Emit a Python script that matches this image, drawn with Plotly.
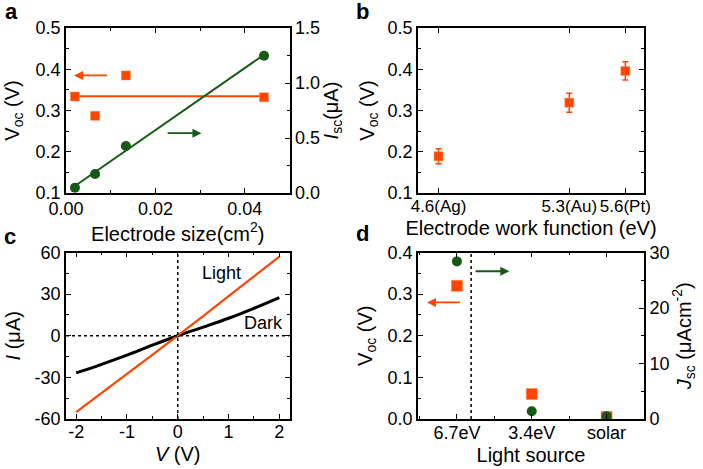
import numpy as np
import plotly.graph_objects as go

# ---------------- data ----------------
# panel a
size_cm2 = [0.002, 0.0065, 0.0134, 0.0443]
voc_a = [0.334, 0.287, 0.385, 0.332]
isc_a = [0.048, 0.173, 0.427, 1.248]

# panel b
work_fn = [4.6, 5.3, 5.6]
work_fn_labels = ["4.6(Ag)", "5.3(Au)", "5.6(Pt)"]
voc_b = [0.189, 0.319, 0.396]
voc_b_err = [0.018, 0.023, 0.022]

# panel c
v_iv = [-2.0, -1.5, -1.0, -0.5, 0.0, 0.5, 1.0, 1.5, 2.0]
i_light = [-55.0, -41.5, -27.5, -13.8, 0.0, 14.2, 28.5, 42.8, 57.0]
i_dark = [-26.8, -20.6, -14.0, -6.8, 0.0, 6.2, 12.6, 19.8, 27.5]
c_xticks = [-2, -1, 0, 1, 2]
c_xticklabels = ["-2", "-1", "0", "1", "2"]
c_yticks = [-60, -30, 0, 30, 60]
c_yticklabels = ["-60", "-30", "0", "30", "60"]

# panel d
sources = ["6.7eV", "3.4eV", "solar"]
voc_d = [0.32, 0.06, 0.005]
jsc_d = [28.4, 1.4, 0.5]

# ---------------- style ----------------
ORANGE = "#FF4500"
GREEN = "#145A14"
FONT = "Arial, Liberation Sans, sans-serif"
W, H = 703, 469


def px(x):
    return x / W


def py(y):
    return 1 - y / H


dom_ax = [px(66), px(289.5)]
dom_bx = [px(418), px(644)]
dom_top = [py(193), py(28)]
dom_bot = [py(419), py(252.5)]

axis_common = dict(
    showline=True, linecolor="black", linewidth=1.6,
    ticks="inside", ticklen=5, tickwidth=1.3, tickcolor="black",
    showgrid=False, zeroline=False, automargin=False, tickangle=0,
    tickfont=dict(family=FONT, size=18, color="black"),
    title_font=dict(family=FONT, size=20, color="black"),
)


def ax(**kw):
    d = dict(axis_common)
    d.update(kw)
    return d


fig = go.Figure()

# ---- panel a ----
fit = np.polyfit(size_cm2, isc_a, 1)
fx = [size_cm2[0], size_cm2[-1]]
fig.add_trace(go.Scatter(x=fx, y=[float(np.mean(voc_a))] * 2, mode="lines",
                         line=dict(color=ORANGE, width=2), xaxis="x", yaxis="y", showlegend=False))
fig.add_trace(go.Scatter(x=size_cm2, y=voc_a, mode="markers",
                         marker=dict(symbol="square", size=9, color=ORANGE,
                                     line=dict(color="#FF8A50", width=0.6)),
                         xaxis="x", yaxis="y", showlegend=False))
fig.add_trace(go.Scatter(x=fx, y=list(np.polyval(fit, fx)), mode="lines",
                         line=dict(color=GREEN, width=2), xaxis="x", yaxis="y2", showlegend=False))
fig.add_trace(go.Scatter(x=size_cm2, y=isc_a, mode="markers",
                         marker=dict(symbol="circle", size=10, color=GREEN),
                         xaxis="x", yaxis="y2", showlegend=False))

# ---- panel b ----
fig.add_trace(go.Scatter(x=work_fn, y=voc_b, mode="markers",
                         marker=dict(symbol="square", size=9, color=ORANGE,
                                     line=dict(color="#FF8A50", width=0.6)),
                         error_y=dict(type="data", array=voc_b_err, visible=True,
                                      color=ORANGE, thickness=1.5, width=3),
                         xaxis="x2", yaxis="y3", showlegend=False))

# ---- panel c ----
fig.add_trace(go.Scatter(x=v_iv, y=i_dark, mode="lines", line_shape="spline",
                         line=dict(color="black", width=3), xaxis="x3", yaxis="y4", showlegend=False))
fig.add_trace(go.Scatter(x=v_iv, y=i_light, mode="lines",
                         line=dict(color=ORANGE, width=2.2), xaxis="x3", yaxis="y4", showlegend=False))

# ---- panel d ----
idx = list(range(len(sources)))
fig.add_trace(go.Scatter(x=idx, y=voc_d, mode="markers",
                         marker=dict(symbol="square", size=11, color=ORANGE,
                                     line=dict(color="#FF8A50", width=0.6)),
                         xaxis="x4", yaxis="y5", showlegend=False))
fig.add_trace(go.Scatter(x=idx, y=jsc_d, mode="markers",
                         marker=dict(symbol="circle", size=10, color=GREEN),
                         xaxis="x4", yaxis="y6", showlegend=False))

fig.update_layout(
    width=W, height=H, margin=dict(l=0, r=0, t=0, b=0),
    paper_bgcolor="white", plot_bgcolor="white",
    font=dict(family=FONT, color="black"),
    # panel a
    xaxis=ax(domain=dom_ax, anchor="y", range=[0, 0.05], dtick=0.02, tick0=0,
             tickformat=".2f", mirror="ticks", ticklabelstandoff=-1,
             minor=dict(ticks="inside", ticklen=3, dtick=0.01, tickcolor="black"),
             title=dict(text="Electrode size(cm<sup>2</sup>)", standoff=4)),
    yaxis=ax(domain=dom_top, anchor="x", range=[0.1, 0.5], dtick=0.1, tick0=0.1,
             tickformat=".1f", mirror=True,
             minor=dict(ticks="inside", ticklen=3, dtick=0.05, tickcolor="black"),
             title=dict(text="V<sub>oc</sub> (V)", standoff=11)),
    yaxis2=ax(anchor="x", overlaying="y", side="right", range=[0, 1.5], dtick=0.5, tick0=0,
              tickformat=".1f",
              minor=dict(ticks="inside", ticklen=3, dtick=0.25, tickcolor="black"),
              title=dict(text="<i>I</i><sub>sc</sub>(μA)", standoff=5)),
    # panel b
    xaxis2=ax(domain=dom_bx, anchor="y3", range=[4.49, 5.70], ticklabelstandoff=-3,
              tickvals=work_fn, ticktext=work_fn_labels, mirror="ticks",
              tickfont=dict(family=FONT, size=17, color="black"),
              title=dict(text="Electrode work function (eV)", standoff=6)),
    yaxis3=ax(domain=dom_top, anchor="x2", range=[0.1, 0.5], dtick=0.1, tick0=0.1,
              tickformat=".1f", mirror="ticks",
              minor=dict(ticks="inside", ticklen=3, dtick=0.05, tickcolor="black"),
              title=dict(text="V<sub>oc</sub> (V)", standoff=8)),
    # panel c
    xaxis3=ax(domain=dom_ax, anchor="y4", range=[-2.2, 2.2], ticklabelstandoff=-4,
              tickvals=c_xticks, ticktext=c_xticklabels, mirror="ticks",
              minor=dict(ticks="inside", ticklen=3, dtick=0.5, tickcolor="black"),
              title=dict(text="<i>V</i> (V)", standoff=6)),
    yaxis4=ax(domain=dom_bot, anchor="x3", range=[-60, 60],
              tickvals=c_yticks, ticktext=c_yticklabels, mirror="ticks",
              minor=dict(ticks="inside", ticklen=3, dtick=15, tickcolor="black"),
              title=dict(text="<i>I</i> (μA)", standoff=9)),
    # panel d
    xaxis4=ax(domain=dom_bx, anchor="y5", range=[-0.52, 2.5], ticklabelstandoff=-3,
              tickvals=idx, ticktext=sources, mirror="ticks",
              minor=dict(ticks="inside", ticklen=3, dtick=0.5, tick0=0, tickcolor="black"),
              title=dict(text="Light source", standoff=6)),
    yaxis5=ax(domain=dom_bot, anchor="x4", range=[0, 0.4], dtick=0.1, tick0=0,
              tickformat=".1f", mirror=True,
              minor=dict(ticks="inside", ticklen=3, dtick=0.05, tickcolor="black"),
              title=dict(text="V<sub>oc</sub> (V)", standoff=10)),
    yaxis6=ax(anchor="x4", overlaying="y5", side="right", range=[0, 30], dtick=10, tick0=0,
              minor=dict(ticks="inside", ticklen=3, dtick=5, tickcolor="black"),
              title=dict(text="<i>J</i><sub>sc</sub> (μAcm<sup>-2</sup>)", standoff=4)),
)

# reference lines
fig.add_shape(type="line", xref="x3", yref="y4", x0=0, x1=0, y0=-60, y1=60,
              line=dict(color="black", width=1.5, dash="dot"))
fig.add_shape(type="line", xref="x3", yref="y4", x0=-2.2, x1=2.2, y0=0, y1=0,
              line=dict(color="black", width=1.5, dash="dot"))
fig.add_shape(type="line", xref="x4", yref="y5", x0=0.19, x1=0.19, y0=0, y1=0.4,
              line=dict(color="black", width=1.5, dash="dot"))

ann = []


def arrow(x0, x1, y, xr, yr, color):
    return dict(x=x1, y=y, ax=x0, ay=y, xref=xr, yref=yr, axref=xr, ayref=yr,
                text="", showarrow=True, arrowhead=2, arrowsize=1, arrowwidth=1.8,
                arrowcolor=color)


ann.append(arrow(0.0095, 0.0018, 0.385, "x", "y", ORANGE))
ann.append(arrow(0.0224, 0.0303, 0.245, "x", "y", GREEN))
ann.append(arrow(0.23, 0.70, 0.355, "x4", "y5", GREEN))
ann.append(arrow(0.06, -0.40, 0.28, "x4", "y5", ORANGE))

# curve labels
ann.append(dict(x=0.86, y=45, xref="x3", yref="y4", text="Light", showarrow=False,
                font=dict(family=FONT, size=18, color="black")))
ann.append(dict(x=1.68, y=9, xref="x3", yref="y4", text="Dark", showarrow=False,
                font=dict(family=FONT, size=18, color="black")))

# panel letters
for letter, x, y in [("a", 11, 12), ("b", 362, 11), ("c", 10, 236), ("d", 362, 234)]:
    ann.append(dict(x=px(x), y=py(y), xref="paper", yref="paper", text=f"<b>{letter}</b>",
                    showarrow=False, xanchor="center", yanchor="middle",
                    font=dict(family=FONT, size=22, color="black")))

fig.update_layout(annotations=ann)
fig.write_html(
    "out.html",
    config={"displayModeBar": False},
    post_script="document.body.style.margin='0px';document.body.style.overflow='hidden';",
)
